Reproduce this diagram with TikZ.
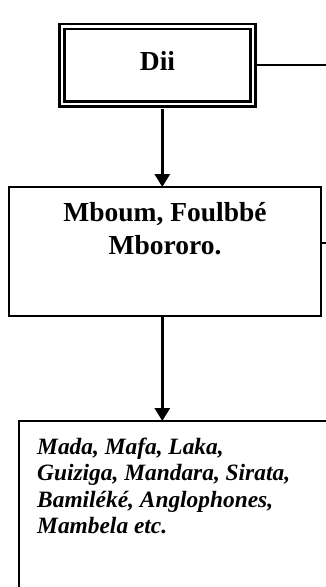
\documentclass[tikz,border=0pt]{standalone}
\usepackage{fontspec}
\setmainfont{Liberation Serif}
\usetikzlibrary{arrows.meta}
\begin{document}
\begin{tikzpicture}[x=1pt,y=-1pt,
  boxframe/.style={draw,line width=2pt,outer sep=0pt,inner sep=0pt},
  dblframe/.style={draw,line width=2.6pt,double,double distance=2.4pt,outer sep=0pt,inner sep=0pt},
  bigtxt/.style={font=\fontsize{27.5}{32.3}\selectfont\bfseries,inner sep=0pt,align=center},
  smalltxt/.style={font=\fontsize{23.4}{26.5}\selectfont\bfseries\itshape,inner sep=0pt,align=left},
  flow/.style={line width=3pt,-{Triangle[width=15pt,length=13pt]}},
  sideline/.style={line width=1.5pt}]
\useasboundingbox (0,0) rectangle (326,587);
\clip (0,0) rectangle (326,587);
% boxes
\node[dblframe,minimum width=191pt,minimum height=77.5pt] (dii) at (157.6,65.2) {};
\node[boxframe,minimum width=311.7pt,minimum height=129pt] (mb) at (165.2,251.5) {};
\node[boxframe,anchor=north west,minimum width=400pt,minimum height=300pt] (ma) at (19,421) {};
% texts (base = baseline of the last line)
\node[bigtxt,anchor=base] (tdii) at (157.5,70) {Dii};
\node[bigtxt,anchor=base] (tmb) at (165,254) {Mboum, Foulbbé\\Mbororo.};
\node[smalltxt,anchor=base west] (tma) at (37,533.5) {Mada, Mafa, Laka,\\Guiziga, Mandara, Sirata,\\Bamiléké, Anglophones,\\Mambela etc.};
% side lines
\coordinate (e1) at (326,65);
\coordinate (e2) at (326,243);
\draw[sideline] ([xshift=3.8pt]dii.east |- e1) -- (e1);
\draw[sideline] (mb.east |- e2) -- (e2);
% arrows
\coordinate (a1) at ([xshift=4.7pt]dii.south);
\coordinate (a2) at ([xshift=-2.9pt]mb.south);
\draw[flow,shorten <=5pt] (a1) -- (a1 |- mb.north);
\draw[flow] (a2) -- (a2 |- ma.north);
\end{tikzpicture}
\end{document}
